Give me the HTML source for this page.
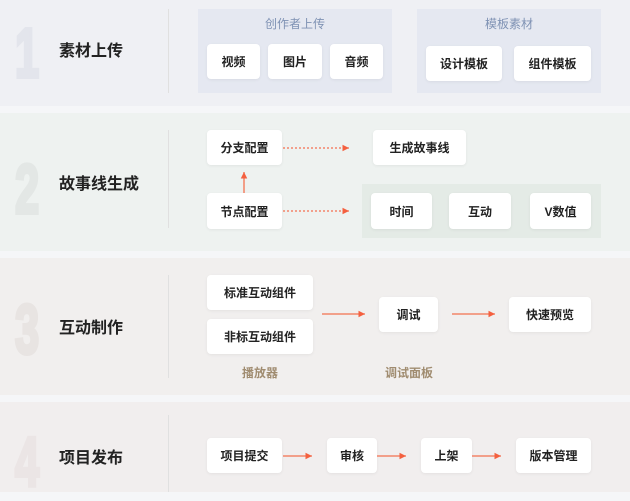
<!DOCTYPE html>
<html><head><meta charset="utf-8"><style>
*{margin:0;padding:0;box-sizing:border-box}
body{width:630px;height:492px;background:#f5f6f8;position:relative;overflow:hidden;font-family:"Liberation Sans","Noto Sans CJK SC",sans-serif;color:#222}
.a{position:absolute}
.sec{position:absolute;left:0;width:630px}
.num{position:absolute;left:15px;font-family:"Liberation Sans",sans-serif;font-weight:bold;font-style:normal;font-size:70px;line-height:1;transform:scaleX(0.62);transform-origin:left top;-webkit-text-stroke:4px currentColor}
.ttl{position:absolute;left:59px;font-size:16px;font-weight:bold;color:#222}
.div{position:absolute;left:168px;width:1px;background:#e0e0e0}
.b{position:absolute;background:#fff;border-radius:4px;box-shadow:0 1px 3px rgba(0,0,0,0.06);font-size:12px;font-weight:bold;display:flex;align-items:center;justify-content:center;color:#222}
.p{position:absolute}
.lbl{position:absolute;font-size:12px;text-align:center;font-weight:bold}
</style></head><body>
<div class="sec" style="top:0;height:106px;background:#eff0f4"></div>
<div class="sec" style="top:113px;height:138px;background:#eef2f0"></div>
<div class="sec" style="top:258px;height:137px;background:#f1efee"></div>
<div class="sec" style="top:402px;height:90px;background:#f1eeee"></div>

<div class="num" style="top:18px;color:#e3e5ec">1</div>
<div class="num" style="top:154px;color:#e3e7e5">2</div>
<div class="num" style="top:294px;color:#e8e4e2">3</div>
<div class="num" style="top:427px;color:#ebe5e5">4</div>
<div class="ttl" style="top:37px">素材上传</div>
<div class="ttl" style="top:170px">故事线生成</div>
<div class="ttl" style="top:314px">互动制作</div>
<div class="ttl" style="top:444px">项目发布</div>
<div class="div" style="top:9px;height:84px"></div>
<div class="div" style="top:130px;height:98px"></div>
<div class="div" style="top:275px;height:103px"></div>
<div class="div" style="top:415px;height:77px"></div>

<div class="p" style="left:198px;top:9px;width:194px;height:84px;background:#e5e8f1"></div>
<div class="p" style="left:417px;top:9px;width:184px;height:84px;background:#e5e8f1"></div>
<div class="lbl" style="left:198px;top:15px;width:194px;color:#7f92b4;font-weight:normal">创作者上传</div>
<div class="lbl" style="left:417px;top:15px;width:184px;color:#7f92b4;font-weight:normal">模板素材</div>
<div class="b" style="left:207px;top:44px;width:53px;height:35px">视频</div>
<div class="b" style="left:268px;top:44px;width:54px;height:35px">图片</div>
<div class="b" style="left:330px;top:44px;width:53px;height:35px">音频</div>
<div class="b" style="left:426px;top:46px;width:76px;height:35px">设计模板</div>
<div class="b" style="left:514px;top:46px;width:77px;height:35px">组件模板</div>

<div class="p" style="left:362px;top:184px;width:239px;height:54px;background:#e4ebe6"></div>
<div class="b" style="left:207px;top:130px;width:75px;height:35px">分支配置</div>
<div class="b" style="left:373px;top:130px;width:93px;height:35px">生成故事线</div>
<div class="b" style="left:207px;top:193px;width:75px;height:36px">节点配置</div>
<div class="b" style="left:371px;top:193px;width:61px;height:36px">时间</div>
<div class="b" style="left:449px;top:193px;width:62px;height:36px">互动</div>
<div class="b" style="left:530px;top:193px;width:61px;height:36px">V数值</div>

<div class="b" style="left:207px;top:275px;width:106px;height:35px">标准互动组件</div>
<div class="b" style="left:207px;top:319px;width:106px;height:35px">非标互动组件</div>
<div class="b" style="left:379px;top:297px;width:59px;height:35px">调试</div>
<div class="b" style="left:509px;top:297px;width:82px;height:35px">快速预览</div>
<div class="lbl" style="left:220px;top:364px;width:80px;color:#a08c70">播放器</div>
<div class="lbl" style="left:369px;top:364px;width:80px;color:#a08c70">调试面板</div>

<div class="b" style="left:207px;top:438px;width:75px;height:35px">项目提交</div>
<div class="b" style="left:327px;top:438px;width:50px;height:35px">审核</div>
<div class="b" style="left:421px;top:438px;width:51px;height:35px">上架</div>
<div class="b" style="left:516px;top:438px;width:75px;height:35px">版本管理</div>

<svg class="a" style="left:0;top:0" width="630" height="492">
<defs><marker id="m" markerWidth="6" markerHeight="6" refX="5" refY="3" orient="auto"><path d="M0,0.5 L5,3 L0,5.5z" fill="#f4603f"/></marker></defs>
<g stroke="#f4704f" stroke-width="1.3" fill="none" marker-end="url(#m)">
<line x1="283" y1="148" x2="349" y2="148" stroke-dasharray="2 2"/>
<line x1="283" y1="211" x2="349" y2="211" stroke-dasharray="2 2"/>
<line x1="244" y1="193" x2="244" y2="172"/>
<line x1="322" y1="314" x2="365" y2="314"/>
<line x1="452" y1="314" x2="495" y2="314"/>
<line x1="283" y1="456" x2="312" y2="456"/>
<line x1="377" y1="456" x2="406" y2="456"/>
<line x1="472" y1="456" x2="501" y2="456"/>
</g></svg>
</body></html>
